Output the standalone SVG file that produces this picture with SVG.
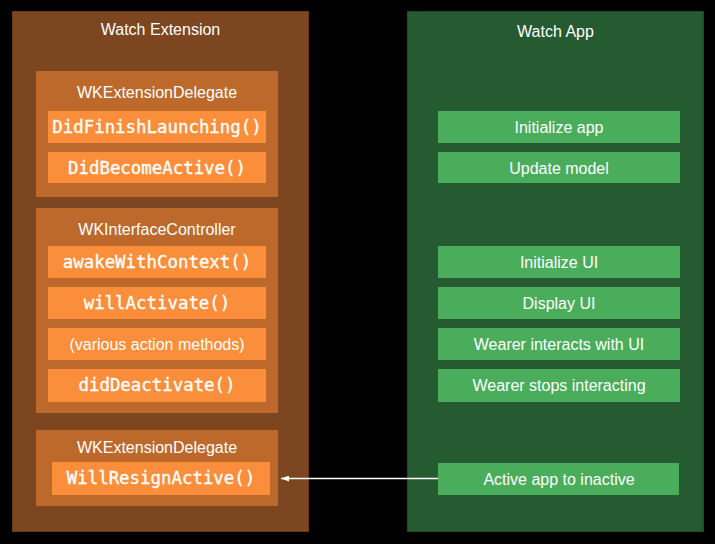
<svg xmlns="http://www.w3.org/2000/svg" width="715" height="544" viewBox="0 0 715 544">
<defs>
<style>
.ext{fill:#7B4620;stroke:#6A3A18;stroke-width:1}
.app{fill:#265A30;stroke:#1F4A27;stroke-width:1}
.grp{fill:#BC692B}
.m{fill:#FA8E3A}
.g{fill:#49AD5B}
.t{font-family:"Liberation Sans",Arial,sans-serif;font-size:16px;fill:#FFFFFF;text-anchor:middle}
.mono{font-family:"DejaVu Sans Mono","Liberation Mono",monospace;font-size:17.4px;fill:#FFFFFF;stroke:#FFFFFF;stroke-width:0.35;text-anchor:middle}
</style>
<marker id="ah" viewBox="0 0 8 6" refX="8" refY="3" markerWidth="8" markerHeight="6" markerUnits="userSpaceOnUse" orient="auto">
<path d="M0,0 L8,3 L0,6 Z" fill="#FFFFFF"/>
</marker>
</defs>
<rect x="0" y="0" width="715" height="544" fill="#000000"/>

<g id="watch-extension">
<rect class="ext" x="12.5" y="11.5" width="296" height="520"/>
<text class="t" x="160.5" y="35">Watch Extension</text>
</g>

<g id="watch-app">
<rect class="app" x="407.5" y="11.5" width="296" height="520"/>
<text class="t" x="555.5" y="37">Watch App</text>
</g>

<g id="ext-delegate-1">
<rect class="grp" x="36" y="71" width="242" height="126"/>
<text class="t" x="157" y="98">WKExtensionDelegate</text>
</g>
<g id="did-finish-launching">
<rect class="m" x="48" y="111" width="218" height="32"/>
<text class="mono" x="157" y="133">DidFinishLaunching()</text>
</g>
<g id="did-become-active">
<rect class="m" x="48" y="152" width="218" height="31"/>
<text class="mono" x="157" y="173.5">DidBecomeActive()</text>
</g>

<g id="interface-controller">
<rect class="grp" x="36" y="208" width="242" height="205"/>
<text class="t" x="157" y="235">WKInterfaceController</text>
</g>
<g id="awake-with-context">
<rect class="m" x="48" y="246" width="218" height="32"/>
<text class="mono" x="157" y="268">awakeWithContext()</text>
</g>
<g id="will-activate">
<rect class="m" x="48" y="287" width="218" height="32"/>
<text class="mono" x="157" y="309">willActivate()</text>
</g>
<g id="various-actions">
<rect class="m" x="48" y="328" width="218" height="32"/>
<text class="t" x="157" y="349.5">(various action methods)</text>
</g>
<g id="did-deactivate">
<rect class="m" x="48" y="369" width="218" height="33"/>
<text class="mono" x="157" y="391">didDeactivate()</text>
</g>

<g id="ext-delegate-2">
<rect class="grp" x="36" y="430" width="242" height="76"/>
<text class="t" x="157" y="453">WKExtensionDelegate</text>
</g>
<g id="will-resign-active">
<rect class="m" x="52" y="462" width="218" height="33"/>
<text class="mono" x="161" y="484">WillResignActive()</text>
</g>

<g id="initialize-app">
<rect class="g" x="438" y="111" width="242" height="32"/>
<text class="t" x="559" y="133">Initialize app</text>
</g>
<g id="update-model">
<rect class="g" x="438" y="152" width="242" height="31"/>
<text class="t" x="559" y="173.5">Update model</text>
</g>
<g id="initialize-ui">
<rect class="g" x="438" y="246" width="242" height="32"/>
<text class="t" x="559" y="268">Initialize UI</text>
</g>
<g id="display-ui">
<rect class="g" x="438" y="287" width="242" height="32"/>
<text class="t" x="559" y="309">Display UI</text>
</g>
<g id="wearer-interacts">
<rect class="g" x="438" y="328" width="242" height="32"/>
<text class="t" x="559" y="350">Wearer interacts with UI</text>
</g>
<g id="wearer-stops">
<rect class="g" x="438" y="369" width="242" height="33"/>
<text class="t" x="559" y="391">Wearer stops interacting</text>
</g>
<g id="active-to-inactive">
<rect class="g" x="438" y="463" width="241" height="32"/>
<text class="t" x="559" y="485">Active app to inactive</text>
</g>

<g id="connectors">
<line x1="438" y1="478.5" x2="281" y2="478.5" stroke="#FFFFFF" stroke-width="1.5" marker-end="url(#ah)"/>
</g>
</svg>
